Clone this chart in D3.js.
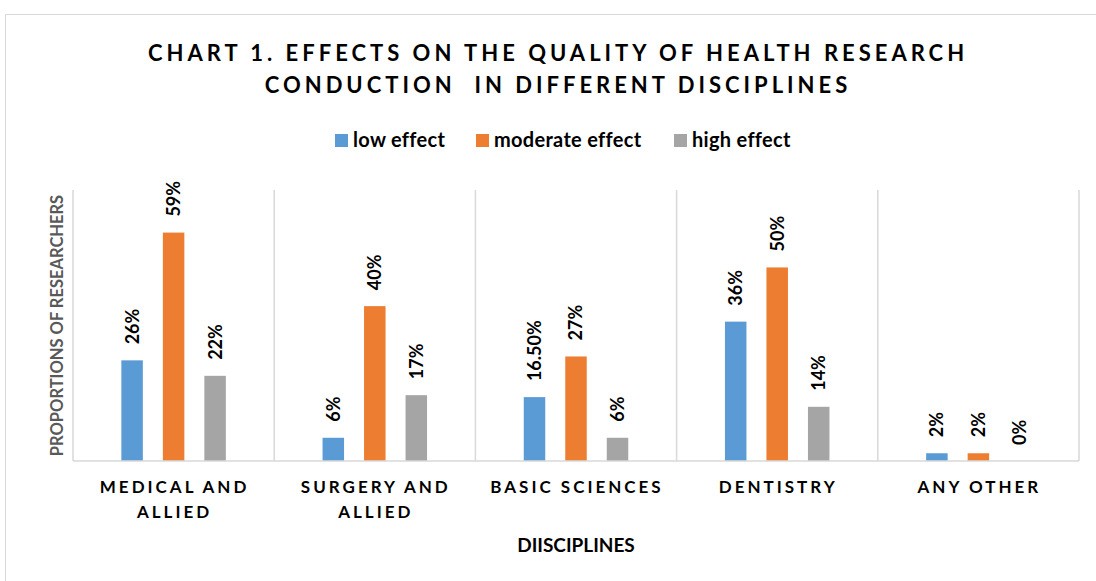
<!DOCTYPE html>
<html>
<head>
<meta charset="utf-8">
<script src="https://cdn.jsdelivr.net/npm/d3@7"></script>
<style>
  body { margin: 0; background: #fff; }
  text { font-family: Lato, "Open Sans", sans-serif; }
</style>
</head>
<body>
<svg width="1096" height="581"></svg>
<script>
const categories = [['MEDICAL AND', 'ALLIED'], ['SURGERY AND', 'ALLIED'], ['BASIC SCIENCES'], ['DENTISTRY'], ['ANY OTHER']];
const seriesNames = ['low effect', 'moderate effect', 'high effect'];
const lowEffect = [26, 6, 16.5, 36, 2];
const moderateEffect = [59, 40, 27, 50, 2];
const highEffect = [22, 17, 6, 14, 0];
const valueLabels = [
  ['26%', '6%', '16.50%', '36%', '2%'],
  ['59%', '40%', '27%', '50%', '2%'],
  ['22%', '17%', '6%', '14%', '0%']
];
const colors = ['#5B9BD5', '#ED7D31', '#A5A5A5'];

const svg = d3.select('svg');
const margin = {left: 73, right: 17, top: 190, bottom: 120};
const width = +svg.attr('width');
const height = +svg.attr('height');

// chart frame
svg.append('rect')
  .attr('x', 5.5).attr('y', 14.5)
  .attr('width', 1100).attr('height', 600)
  .attr('fill', 'none').attr('stroke', '#d9d9d9');

const values = [lowEffect, moderateEffect, highEffect];

const x0 = d3.scaleBand()
  .domain(d3.range(categories.length))
  .range([margin.left, width - margin.right])
  .padding(0);

const x1 = d3.scaleBand()
  .domain(d3.range(seriesNames.length))
  .range([-52.25, 52.25])
  .paddingInner(0.482)
  .paddingOuter(0);

const y = d3.scaleLinear()
  .domain([0, 70])
  .range([height - margin.bottom, margin.top]);

// separators between categories
svg.append('g')
  .selectAll('line')
  .data(d3.range(categories.length + 1))
  .enter()
  .append('line')
  .attr('x1', (d) => d === categories.length ? x0.range()[1] : x0(d))
  .attr('x2', (d) => d === categories.length ? x0.range()[1] : x0(d))
  .attr('y1', y(70))
  .attr('y2', y(0))
  .attr('stroke', '#d9d9d9')
  .attr('stroke-width', 1.5);

// bars
const groups = svg.append('g')
  .selectAll('g')
  .data(values)
  .enter()
  .append('g')
  .attr('fill', (d, i) => colors[i]);

groups.selectAll('rect')
  .data((d, s) => d.map((v, c) => ({v: v, c: c, s: s})))
  .enter()
  .append('rect')
  .attr('x', (d) => x0(d.c) + x0.bandwidth() / 2 + x1(d.s))
  .attr('y', (d) => y(d.v))
  .attr('width', x1.bandwidth())
  .attr('height', (d) => y(0) - y(d.v));

// value labels
groups.selectAll('text')
  .data((d, s) => d.map((v, c) => ({v: v, c: c, s: s})))
  .enter()
  .append('text')
  .attr('transform', (d) => 'translate(' + (x0(d.c) + x0.bandwidth() / 2 + x1(d.s) + x1.bandwidth() / 2) + ',' + (y(d.v) - 16) + ') rotate(-90)')
  .attr('dy', '0.36em')
  .attr('fill', '#000')
  .style('font-size', '18px')
  .style('font-weight', 'bold')
  .text((d) => valueLabels[d.s][d.c]);

// baseline
svg.append('line')
  .attr('x1', x0.range()[0]).attr('x2', x0.range()[1])
  .attr('y1', y(0)).attr('y2', y(0))
  .attr('stroke', '#d9d9d9')
  .attr('stroke-width', 1.5);

// category labels
const ticks = svg.append('g')
  .selectAll('text')
  .data(categories)
  .enter()
  .append('text')
  .attr('x', (d, i) => x0(i) + x0.bandwidth() / 2 + 1)
  .attr('y', 493)
  .attr('text-anchor', 'middle')
  .attr('fill', '#000')
  .style('font-size', '17px')
  .style('font-weight', 'bold')
  .style('letter-spacing', '3px');

ticks.selectAll('tspan')
  .data((d) => d)
  .enter()
  .append('tspan')
  .attr('x', function() { return d3.select(this.parentNode).attr('x'); })
  .attr('dy', (d, i) => i === 0 ? 0 : 25)
  .text((d) => d);

// x axis title, centred on the plot area
svg.append('text')
  .attr('x', (x0.range()[0] + x0.range()[1]) / 2)
  .attr('y', 552)
  .attr('text-anchor', 'middle')
  .attr('fill', '#000')
  .style('font-size', '19px')
  .style('font-weight', 'bold')
  .text('DIISCIPLINES');

// y axis title
svg.append('text')
  .attr('transform', 'translate(63,' + ((y(0) + y(70)) / 2) + ') rotate(-90)')
  .attr('text-anchor', 'middle')
  .attr('fill', '#595959')
  .style('font-size', '16.5px')
  .style('font-weight', 'bold')
  .text('PROPORTIONS OF RESEARCHERS');

// title
const title = svg.append('text')
  .attr('x', 558)
  .attr('y', 61)
  .attr('text-anchor', 'middle')
  .attr('fill', '#000')
  .style('font-size', '22px')
  .style('font-weight', 'bold')
  .style('letter-spacing', '4px');
title.append('tspan').attr('x', 558).attr('dy', 0).text('CHART 1. EFFECTS ON THE QUALITY OF HEALTH RESEARCH');
title.append('tspan').attr('x', 558).attr('dy', 32).text('CONDUCTION \u00a0IN DIFFERENT DISCIPLINES');

// legend
const legendX = [335, 476, 674];
const legend = svg.append('g')
  .selectAll('g')
  .data(seriesNames)
  .enter()
  .append('g')
  .attr('transform', (d, i) => 'translate(' + legendX[i] + ',134)');
legend.append('rect')
  .attr('width', 13).attr('height', 13)
  .attr('fill', (d, i) => colors[i]);
legend.append('text')
  .attr('x', 18).attr('y', 13)
  .attr('fill', '#000')
  .style('font-size', '20px')
  .style('font-weight', 'bold')
  .style('letter-spacing', '0.3px')
  .text((d) => d);
</script>
</body>
</html>
